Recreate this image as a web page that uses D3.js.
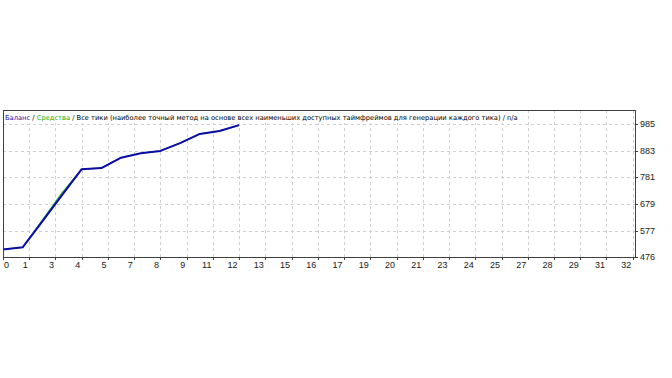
<!DOCTYPE html>
<html>
<head>
<meta charset="utf-8">
<script src="https://cdn.jsdelivr.net/npm/d3@7"></script>
<style>
  body { margin: 0; background: #fff; }
  svg { display: block; }
</style>
</head>
<body>
<svg width="672" height="378"></svg>
<script>
// deal number for each point of the curves
let trades = [0, 1, 2, 3, 4, 5, 6, 7, 8, 9, 10, 11, 12];
// balance curve
let balance = [505, 513, 613, 713, 813, 817, 857, 874, 883, 913, 948, 959, 982];
// equity curve (mostly hidden under balance)
let equity = [505, 513, 618, 722, 813, 817, 857, 874, 883, 913, 948, 959, 982];
// axis labels
let xTicks = [0, 1, 3, 4, 5, 7, 8, 9, 11, 12, 13, 15, 16, 17, 19, 20, 21, 23, 24, 25, 27, 28, 29, 31, 32];
let yTicks = [476, 577, 679, 781, 883, 985];

let pL = 3, pR = 635, pT = 110, pB = 257;

let svg = d3.select("svg");

// x ticks sit on an even grid, the label is round(i*4/3)
let scX = d3.scaleLinear().domain([0, 32]).range([pL, 632.7]);
let tickPos = (d, i) => scX(i * 4 / 3);
let scY = d3.scaleLinear().domain([476, 985]).range([pB, 124.3]);

// grid
let grid = svg.append("g").attr("stroke", "#cfcfcf").attr("stroke-dasharray", "3,3");
grid.selectAll("line.v")
    .data(xTicks.slice(1))
    .enter().append("line")
    .attr("x1", (d, i) => Math.round(tickPos(d, i + 1)) + 0.5)
    .attr("x2", (d, i) => Math.round(tickPos(d, i + 1)) + 0.5)
    .attr("y1", pT).attr("y2", pB);
grid.selectAll("line.h")
    .data(yTicks.slice(1))
    .enter().append("line")
    .attr("x1", pL).attr("x2", pR)
    .attr("y1", d => Math.round(scY(d)) + 0.5)
    .attr("y2", d => Math.round(scY(d)) + 0.5);

// title (drawn over a white box so the grid does not show through)
let titleG = svg.append("g");
let title = titleG.append("text")
    .attr("x", 5).attr("y", 120)
    .attr("font-family", "DejaVu Sans, sans-serif")
    .attr("font-size", "10px")
    .attr("fill", "#000");
title.append("tspan").attr("fill", "#1515a8").text("Баланс");
title.append("tspan").text(" / ");
title.append("tspan").attr("fill", "#10b010").text("Средства");
title.append("tspan").text(" / Все тики (наиболее точный метод на основе всех наименьших доступных таймфреймов для генерации каждого тика) / n/a");
// shrink the font until the line is as wide as in the picture
let w = title.node().getComputedTextLength();
title.attr("font-size", (10 * 513 / w).toFixed(2) + "px");
let bb = title.node().getBBox();
titleG.insert("rect", "text")
    .attr("x", bb.x - 1).attr("y", pT + 1)
    .attr("width", bb.width + 2).attr("height", 12)
    .attr("fill", "#fff");

// curves
let lineMaker = d3.line()
                  .x((d, i) => scX(trades[i]))
                  .y(d => scY(d));
svg.append("path")
   .attr("fill", "none").attr("stroke", "#20b020").attr("stroke-width", 1.2)
   .attr("d", lineMaker(equity));
svg.append("path")
   .attr("fill", "none").attr("stroke", "#0c0ca8").attr("stroke-width", 2)
   .attr("stroke-linejoin", "round")
   .attr("d", lineMaker(balance));

// frame
svg.append("rect")
   .attr("x", pL + 0.5).attr("y", pT + 0.5)
   .attr("width", pR - pL).attr("height", pB - pT)
   .attr("fill", "none").attr("stroke", "#404040");

// bottom ticks and labels
let xa = svg.append("g")
    .attr("font-family", "Liberation Sans, sans-serif").attr("font-size", "9px").attr("fill", "#202020");
xa.selectAll("line")
  .data(xTicks)
  .enter().append("line")
  .attr("x1", (d, i) => Math.round(tickPos(d, i)) + 0.5)
  .attr("x2", (d, i) => Math.round(tickPos(d, i)) + 0.5)
  .attr("y1", pB).attr("y2", pB + 3)
  .attr("stroke", "#404040");
xa.selectAll("text")
  .data(xTicks)
  .enter().append("text")
  .attr("x", (d, i) => i === 0 ? pL + 1 : tickPos(d, i) - 1.5)
  .attr("y", 268)
  .attr("text-anchor", (d, i) => i === 0 ? "start" : "end")
  .text(d => d);

// right ticks and labels
let ya = svg.append("g")
    .attr("font-family", "Liberation Sans, sans-serif").attr("font-size", "9px").attr("fill", "#202020");
ya.selectAll("line")
  .data(yTicks)
  .enter().append("line")
  .attr("x1", pR).attr("x2", pR + 3)
  .attr("y1", d => Math.round(scY(d)) + 0.5)
  .attr("y2", d => Math.round(scY(d)) + 0.5)
  .attr("stroke", "#404040");
ya.selectAll("text")
  .data(yTicks)
  .enter().append("text")
  .attr("x", 640)
  .attr("y", d => scY(d) + 3)
  .text(d => d);
</script>
</body>
</html>
